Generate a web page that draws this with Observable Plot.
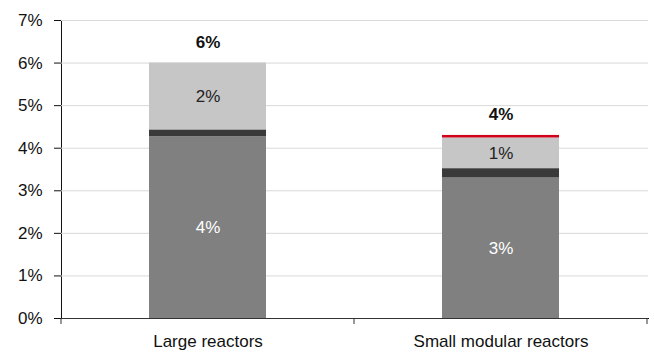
<!DOCTYPE html>
<html><head><meta charset="utf-8">
<script src="https://cdn.jsdelivr.net/npm/d3@7"></script>
<script src="https://cdn.jsdelivr.net/npm/@observablehq/plot@0.6"></script>
<style>
html,body{margin:0;padding:0;background:#fff;}
#chart svg{display:block;}
</style>
</head><body><div id="chart"></div>
<script>
const categories = ["Large reactors", "Small modular reactors"];
const series = ["Base", "Dark", "Light", "Red"];
const baseValues = [4.27, 3.30];
const darkValues = [0.16, 0.22];
const lightValues = [1.57, 0.72];
const redValues = [0.0, 0.06];
const yTicks = [0, 1, 2, 3, 4, 5, 6, 7];
const colors = ["#808080", "#3a3a3a", "#c6c6c6", "#d0021b"];

const valuesBySeries = [baseValues, darkValues, lightValues, redValues];
const rows = [];
categories.forEach((cat, i) => {
  series.forEach((s, j) => rows.push({cat, series: s, value: valuesBySeries[j][i]}));
});
const totals = categories.map((cat, i) => ({cat, total: d3.sum(valuesBySeries, v => v[i])}));
const pct = v => Math.round(v) + "%";

const boundaryTicks = (index, scales, values, dimensions) => {
  const x = scales.x;
  const step = x.step(), bw = x.bandwidth();
  const gap = (step - bw) / 2;
  const y0 = dimensions.height - dimensions.marginBottom;
  const bounds = categories.map(c => x(c) - gap);
  bounds.push(x(categories[categories.length - 1]) + bw + gap);
  const g = d3.create("svg:g").attr("stroke", "#333").attr("stroke-width", 1);
  bounds.forEach(b => g.append("line").attr("x1", b).attr("x2", b).attr("y1", y0).attr("y2", y0 + 6));
  return g.node();
};

const chart = Plot.plot({
  width: 654,
  height: 354,
  marginLeft: 61,
  marginRight: 6,
  marginTop: 20,
  marginBottom: 36,
  style: {fontFamily: "'Liberation Sans', Arial, sans-serif", fontSize: "17px", color: "#111", background: "#fff"},
  x: {domain: categories, paddingInner: 0.6, paddingOuter: 0.3, label: null, tickSize: 0, tickPadding: 16, line: true},
  y: {domain: [0, 7], ticks: yTicks, tickFormat: d => d + "%", label: null, tickSize: 7, tickPadding: 12, line: true},
  color: {domain: series, range: colors},
  marks: [
    Plot.ruleY(yTicks.filter(t => t > 0), {stroke: "#d9d9d9", strokeWidth: 1}),
    Plot.barY(rows, {x: "cat", y: "value", fill: "series", order: series}),
    Plot.text(rows, Plot.stackY({x: "cat", y: "value", z: "series", order: series,
      text: d => d.series === "Base" ? pct(d.value) : null, fill: "white"})),
    Plot.text(rows, Plot.stackY({x: "cat", y: "value", z: "series", order: series,
      text: d => d.series === "Light" ? pct(d.value) : null, fill: "#222"})),
    Plot.text(totals, {x: "cat", y: "total", text: d => pct(d.total), dy: -21, fontWeight: "bold", fill: "#111"}),
    Plot.ruleY([0], {stroke: "#333"}),
    boundaryTicks
  ]
});
document.getElementById("chart").appendChild(chart);
</script>
</body></html>
